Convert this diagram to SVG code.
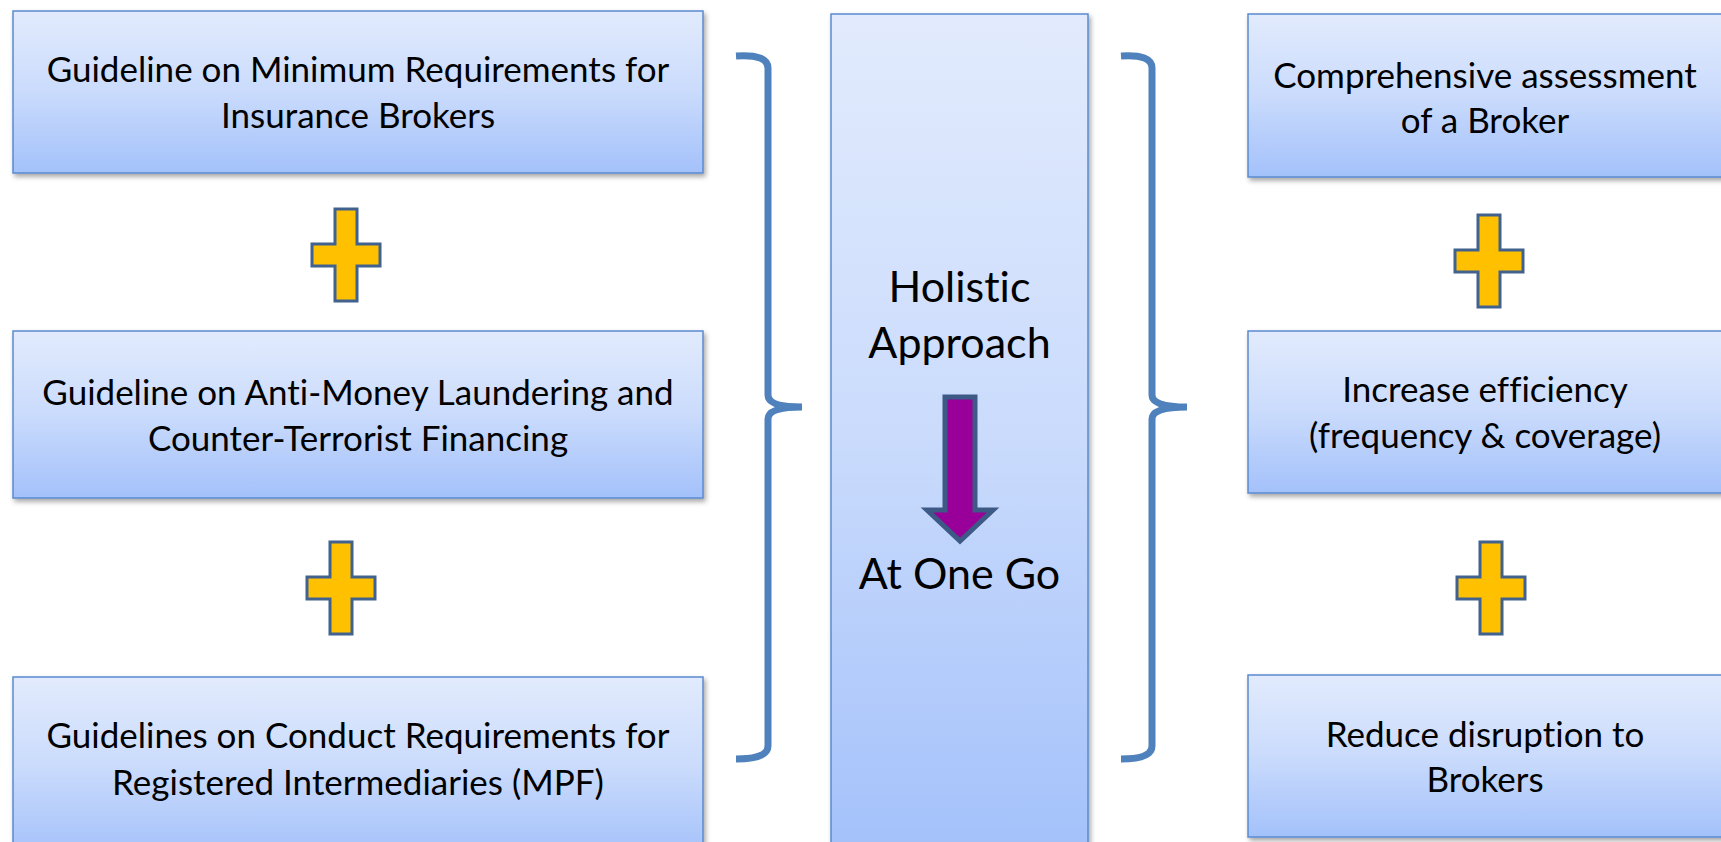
<svg xmlns="http://www.w3.org/2000/svg" width="1721" height="842" viewBox="0 0 1721 842">
<defs>
<linearGradient id="gb" x1="0" y1="0" x2="0" y2="1">
<stop offset="0" stop-color="#E2EBFD"/>
<stop offset="0.5" stop-color="#CADBFC"/>
<stop offset="1" stop-color="#A3C1FA"/>
</linearGradient>
<filter id="sh" x="-5%" y="-5%" width="112%" height="115%">
<feDropShadow dx="2" dy="3" stdDeviation="2.5" flood-color="#000" flood-opacity="0.35"/>
</filter>
<path id="plus" d="M-11,-46 H11 V-11 H34 V11 H11 V46 H-11 V11 H-34 V-11 H-11 Z"/>
</defs>
<style>
.box{fill:url(#gb);stroke:#5A8AD0;stroke-width:1.5;filter:url(#sh)}
.t{font-family:Lato,"Open Sans","Liberation Sans",sans-serif;font-size:35px;fill:#000;text-anchor:middle;font-variant-ligatures:none}
.tc{font-family:Lato,"Open Sans","Liberation Sans",sans-serif;font-size:43px;fill:#000;text-anchor:middle;font-variant-ligatures:none}
.plus{fill:#FFC000;stroke:#41628E;stroke-width:3}
.br{fill:none;stroke:#4F81BD;stroke-width:7;stroke-linecap:butt}
</style>
<rect width="1721" height="842" fill="#fff"/>
<g id="left1">
<rect class="box" x="13" y="11" width="690" height="162"/>
<text class="t" x="358" y="82">Guideline on Minimum Requirements for</text>
<text class="t" x="358" y="128">Insurance Brokers</text>
</g>
<g id="left2">
<rect class="box" x="13" y="331" width="690" height="167"/>
<text class="t" x="358" y="405">Guideline on Anti-Money Laundering and</text>
<text class="t" x="358" y="451">Counter-Terrorist Financing</text>
</g>
<g id="left3">
<rect class="box" x="13" y="677" width="690" height="180"/>
<text class="t" x="358" y="748">Guidelines on Conduct Requirements for</text>
<text class="t" x="358" y="795">Registered Intermediaries (MPF)</text>
</g>
<g id="plusL1"><use href="#plus" class="plus" transform="translate(346,255)"/></g>
<g id="plusL2"><use href="#plus" class="plus" transform="translate(341,588)"/></g>
<g id="center">
<rect class="box" x="831" y="14" width="257" height="840"/>
<text class="tc" x="959.5" y="302">Holistic</text>
<text class="tc" x="959.5" y="358">Approach</text>
<path d="M945,397 H975 V510 H993 L960,541 L927,510 H945 Z" fill="#990099" stroke="#3C5A85" stroke-width="5" stroke-linejoin="miter"/>
<text class="tc" x="959.5" y="589">At One Go</text>
</g>
<g id="right1">
<rect class="box" x="1248" y="14" width="480" height="163"/>
<text class="t" x="1485" y="88">Comprehensive assessment</text>
<text class="t" x="1485" y="133">of a Broker</text>
</g>
<g id="right2">
<rect class="box" x="1248" y="331" width="480" height="162"/>
<text class="t" x="1485" y="402">Increase efficiency</text>
<text class="t" x="1485" y="448">(frequency &amp; coverage)</text>
</g>
<g id="right3">
<rect class="box" x="1248" y="675" width="480" height="162"/>
<text class="t" x="1485" y="747">Reduce disruption to</text>
<text class="t" x="1485" y="792">Brokers</text>
</g>
<g id="plusR1"><use href="#plus" class="plus" transform="translate(1489,261)"/></g>
<g id="plusR2"><use href="#plus" class="plus" transform="translate(1491,588)"/></g>
<g id="connectors">
<path class="br" d="M736,56 Q768,54 768,68 V395 Q768,407 802,407 Q768,407 768,419 V746 Q768,759 736,759"/>
<path class="br" d="M1121,56 Q1152,54 1152,68 V395 Q1152,407 1187,407 Q1152,407 1152,419 V746 Q1152,759 1121,759"/>
</g>
</svg>
